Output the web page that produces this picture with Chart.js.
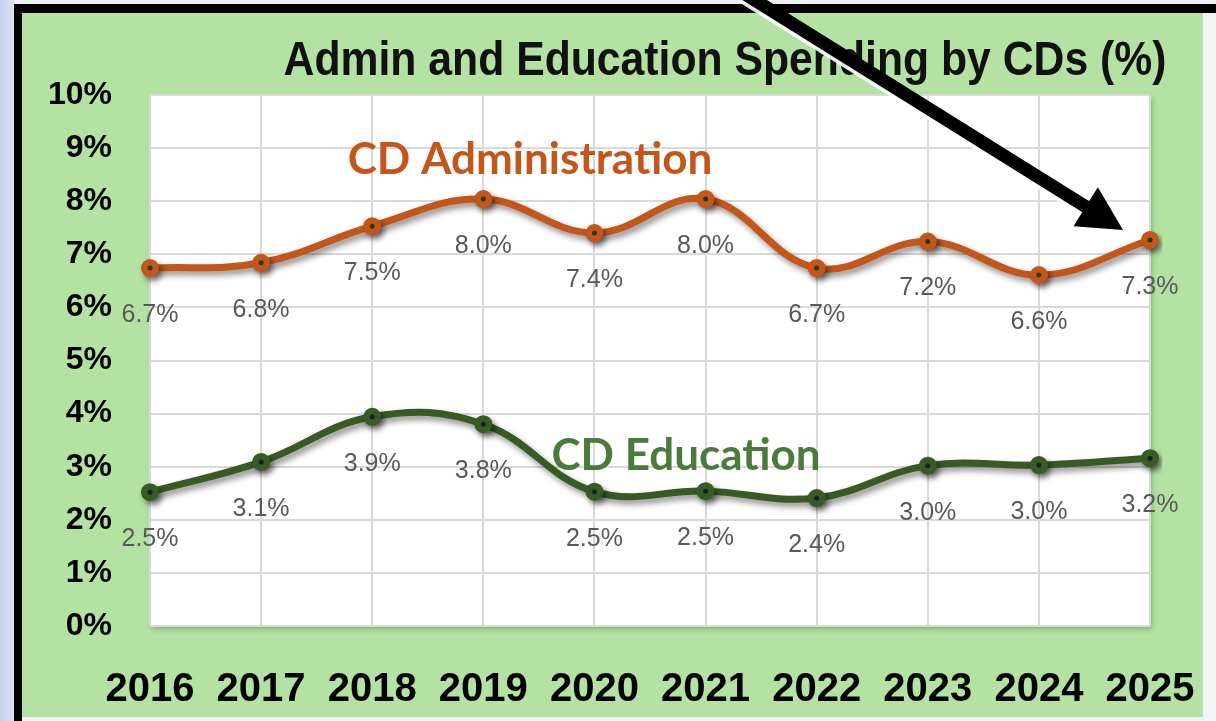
<!DOCTYPE html>
<html>
<head>
<meta charset="utf-8">
<script src="https://cdn.jsdelivr.net/npm/chart.js@4"></script>
<style>
    html, body {
        margin: 0;
        padding: 0;
        width: 1216px;
        height: 721px;
        overflow: hidden;
    }
    body {
        background: linear-gradient(to right, #c3d1ec 0px, #dbe3f2 14px, #eef0f5 14px);
        position: relative;
    }
    .frame {
        position: absolute;
        left: 14px;
        top: 4px;
        width: 1240px;
        height: 760px;
        border-left: 8px solid #000;
        border-top: 9px solid #000;
        background: #f1f3f7;
    }
    .card {
        position: absolute;
        left: 22px;
        top: 13px;
        width: 1181px;
        height: 704px;
        background: #b3e2a2;
    }
    #chart {
        position: absolute;
        left: 0;
        top: 0;
    }
</style>
</head>
<body>
<div class="frame"></div>
<div class="card"></div>
<canvas id="chart" width="1216" height="721"></canvas>
<script>
// Data
const years = ['2016', '2017', '2018', '2019', '2020', '2021', '2022', '2023', '2024', '2025'];
const adminSpending = [6.74, 6.84, 7.53, 8.04, 7.40, 8.04, 6.74, 7.24, 6.61, 7.27];
const educationSpending = [2.52, 3.09, 3.94, 3.80, 2.53, 2.54, 2.41, 3.02, 3.03, 3.16];
const yTicks = [0, 1, 2, 3, 4, 5, 6, 7, 8, 9, 10];

const chartTitle = 'Admin and Education Spending by CDs (%)';
const adminName = 'CD Administration';
const educationName = 'CD Education';

const orange = '#c4561a';
const darkGreen = '#375b22';

// White plot area with a soft shadow
const plotBackground = {
    id: 'plotBackground',
    beforeDraw(chart) {
        const { ctx, chartArea } = chart;
        ctx.save();
        ctx.shadowColor = 'rgba(0,0,0,0.25)';
        ctx.shadowBlur = 5;
        ctx.shadowOffsetX = 2;
        ctx.shadowOffsetY = 3;
        ctx.fillStyle = '#ffffff';
        ctx.fillRect(chartArea.left, chartArea.top, chartArea.right - chartArea.left, chartArea.bottom - chartArea.top);
        ctx.restore();
    }
};

// Drop shadow under the lines
const lineShadow = {
    id: 'lineShadow',
    beforeDatasetDraw(chart) {
        const ctx = chart.ctx;
        ctx.save();
        ctx.shadowColor = 'rgba(0,0,0,0.45)';
        ctx.shadowBlur = 6;
        ctx.shadowOffsetX = 3;
        ctx.shadowOffsetY = 4;
    },
    afterDatasetDraw(chart) {
        chart.ctx.restore();
    }
};

// Value labels under every point
const valueLabels = {
    id: 'valueLabels',
    afterDatasetsDraw(chart) {
        const ctx = chart.ctx;
        ctx.save();
        ctx.font = '25px "Liberation Sans", Arial, sans-serif';
        ctx.fillStyle = '#595959';
        ctx.textAlign = 'center';
        ctx.textBaseline = 'middle';
        chart.data.datasets.forEach((ds, i) => {
            chart.getDatasetMeta(i).data.forEach((pt, j) => {
                ctx.fillText(ds.data[j].toFixed(1) + '%', pt.x, pt.y + 47);
            });
        });
        ctx.restore();
    }
};

// Title, series names and the arrow
const overlay = {
    id: 'overlay',
    afterDraw(chart) {
        const ctx = chart.ctx;
        ctx.save();

        ctx.textAlign = 'center';
        ctx.textBaseline = 'middle';
        ctx.fillStyle = '#111111';
        ctx.font = 'bold 48px "Liberation Sans", Arial, sans-serif';
        // the original title face is a condensed one, so squeeze it a bit
        ctx.save();
        ctx.translate(725, 62);
        ctx.scale(0.89, 1);
        ctx.fillText(chartTitle, 0, 0);
        ctx.restore();

        ctx.font = 'bold 44px Lato, "Open Sans", sans-serif';
        ctx.fillStyle = orange;
        ctx.fillText(adminName, 530, 160);
        ctx.fillStyle = '#4a7b3a';
        ctx.fillText(educationName, 686, 456);

        // arrow
        const sx = 745, sy = -6;
        const tx = 1123, ty = 230;
        const ang = Math.atan2(ty - sy, tx - sx);
        const headLen = 44, headHalf = 23;
        const bx = tx - headLen * Math.cos(ang);
        const by = ty - headLen * Math.sin(ang);
        const nx = -Math.sin(ang), ny = Math.cos(ang);

        const drawArrow = (color, dx, dy) => {
            ctx.strokeStyle = color;
            ctx.fillStyle = color;
            ctx.lineWidth = 13;
            ctx.beginPath();
            ctx.moveTo(sx + dx, sy + dy);
            ctx.lineTo(bx + 4 * Math.cos(ang) + dx, by + 4 * Math.sin(ang) + dy);
            ctx.stroke();
            ctx.beginPath();
            ctx.moveTo(tx + dx, ty + dy);
            ctx.lineTo(bx + nx * headHalf + dx, by + ny * headHalf + dy);
            ctx.lineTo(bx - nx * headHalf + dx, by - ny * headHalf + dy);
            ctx.closePath();
            ctx.fill();
        };
        drawArrow('rgba(255,255,255,0.9)', -2, 3);
        drawArrow('#000000', 0, 0);

        ctx.restore();
    }
};

const ctx = document.getElementById('chart').getContext('2d');
new Chart(ctx, {
    type: 'line',
    data: {
        labels: years,
        datasets: [{
            label: adminName,
            data: adminSpending,
            borderColor: orange,
            backgroundColor: orange,
            borderWidth: 7,
            tension: 0.4,
            pointRadius: 5.75,
            pointBorderWidth: 6.5,
            pointBackgroundColor: '#2f5a16',
            pointBorderColor: orange
        }, {
            label: educationName,
            data: educationSpending,
            borderColor: darkGreen,
            backgroundColor: darkGreen,
            borderWidth: 7,
            tension: 0.4,
            pointRadius: 5.75,
            pointBorderWidth: 6.5,
            pointBackgroundColor: '#1b3050',
            pointBorderColor: darkGreen
        }]
    },
    options: {
        responsive: false,
        animation: false,
        layout: {
            padding: { left: 22, right: 66, top: 95, bottom: 5 }
        },
        plugins: {
            legend: { display: false },
            title: { display: false },
            tooltip: { enabled: false }
        },
        scales: {
            x: {
                offset: false,
                border: { display: false },
                grid: { color: '#d9d9d9', lineWidth: 2, drawTicks: false },
                ticks: {
                    padding: 40,
                    color: '#000000',
                    maxRotation: 0,
                    font: { family: '"Liberation Sans", Arial, sans-serif', size: 40, weight: 'bold' }
                },
                afterFit(scale) {
                    scale.height = 90;
                    // edge labels fit inside the layout padding already
                    scale.paddingLeft = 0;
                    scale.paddingRight = 0;
                }
            },
            y: {
                min: yTicks[0],
                max: yTicks[yTicks.length - 1],
                border: { display: false },
                grid: { color: '#d9d9d9', lineWidth: 2, drawTicks: false },
                afterBuildTicks(scale) {
                    scale.ticks = yTicks.map(v => ({ value: v }));
                },
                ticks: {
                    padding: 38,
                    color: '#000000',
                    font: { family: '"Liberation Sans", Arial, sans-serif', size: 32, weight: 'bold' },
                    callback: v => v + '%'
                },
                afterFit(scale) {
                    scale.width = 128;
                }
            }
        }
    },
    plugins: [plotBackground, lineShadow, valueLabels, overlay]
});
</script>
</body>
</html>
